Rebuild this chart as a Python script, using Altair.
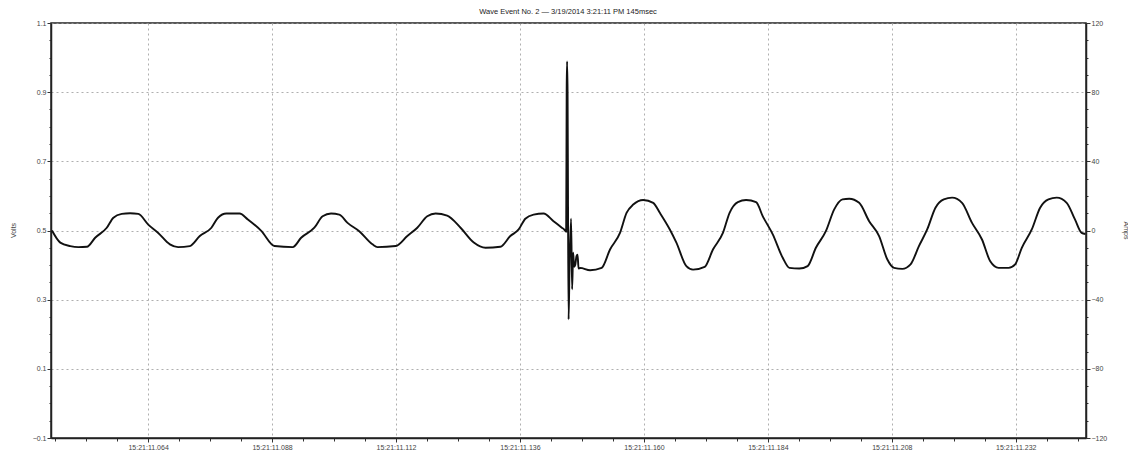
import altair as alt
import pandas as pd

title_text = "Wave Event No. 2 \u2014  3/19/2014 3:21:11 PM 145msec"

time_ms = [
    45.39, 47.0, 48.92, 50.5, 52.15, 53.75, 56.0, 57.28, 58.9, 60.5, 62.1,
    64.03, 65.96, 68.22, 69.82, 72.08, 74.01, 76.26, 77.54, 79.16, 81.72,
    83.32, 85.91, 88.48, 92.01, 93.63, 96.19, 97.79, 99.42, 101.02, 102.62,
    104.88, 107.44, 108.41, 111.96, 114.19, 116.12, 118.05, 119.67, 121.91,
    124.5, 127.06, 129.32, 132.21, 134.14, 135.75, 137.04, 138.64, 140.57,
    142.5, 144.1, 144.56,
    144.95, 145.05, 145.12, 145.22, 145.3, 145.42, 145.6, 145.9, 146.1,
    146.3, 146.5, 146.7, 146.95, 147.15, 147.35, 147.65,
    149.58, 151.82, 153.44, 155.37, 156.64, 157.94, 159.87, 161.80, 163.09,
    165.02, 166.29, 168.22, 169.51, 171.77, 173.37, 175.3, 176.59, 178.19,
    179.79, 181.72, 183.02, 184.95, 186.88, 188.17, 190.1, 191.70, 193.30,
    195.23, 196.85, 198.45, 199.75, 201.68, 203.61, 205.54, 207.14, 208.43,
    210.03, 211.63, 213.25, 214.85, 216.45, 218.07, 219.67, 221.6, 223.53,
    225.46, 227.06, 228.68, 230.61, 231.88, 233.17, 235.1, 236.72, 238.33,
    239.93, 241.86, 243.46, 244.75, 245.5,
]

volts = [
    0.500, 0.465, 0.455, 0.452, 0.453, 0.479, 0.508, 0.537, 0.548, 0.550, 0.548,
    0.517, 0.493, 0.460, 0.452, 0.455, 0.484, 0.508, 0.537, 0.549, 0.549,
    0.532, 0.499, 0.455, 0.452, 0.479, 0.508, 0.541, 0.549, 0.546, 0.522,
    0.498, 0.460, 0.452, 0.455, 0.484, 0.508, 0.541, 0.549, 0.543,
    0.508, 0.465, 0.450, 0.453, 0.484, 0.503, 0.534, 0.546, 0.549,
    0.527, 0.508, 0.503,
    0.497, 0.910, 0.989, 0.900, 0.600, 0.243, 0.400, 0.534, 0.330,
    0.436, 0.395, 0.400, 0.426, 0.430, 0.390, 0.392,
    0.385, 0.392, 0.445, 0.493, 0.551, 0.575, 0.588, 0.580, 0.551,
    0.503, 0.465, 0.397, 0.387, 0.395, 0.445, 0.493, 0.551, 0.582,
    0.588, 0.582, 0.541, 0.489, 0.421, 0.392, 0.390, 0.397, 0.450,
    0.498, 0.561, 0.590, 0.592, 0.580, 0.527, 0.484, 0.416, 0.392,
    0.389, 0.402, 0.455, 0.503, 0.566, 0.590, 0.595, 0.580, 0.522,
    0.474, 0.411, 0.392, 0.392, 0.402, 0.450, 0.503, 0.566, 0.590,
    0.595, 0.580, 0.532, 0.493, 0.490,
]

x_ticks = list(range(46, 246, 6))
volt_ticks = [round(-0.1 + 0.05 * i, 2) for i in range(25)]
amp_ticks = list(range(-120, 121, 10))
amp_domain = [-120, 120]

df = pd.DataFrame({"t": time_ms, "v": volts})
amps_df = pd.DataFrame({"a": amp_domain})
title_df = pd.DataFrame({"title": [title_text]})

FONT = "Liberation Sans"
LABEL_COLOR = "#444"

x_major = "(datum.value - 64) % 24 == 0"
v_major = "abs(round(datum.value * 20) % 4) == 2"
a_major = "datum.value % 40 == 0"

x_axis = alt.Axis(
    values=x_ticks,
    orient="bottom",
    title=None,
    labelExpr=f"{x_major} ? '15:21:11.' + format(datum.value, '03d') : ''",
    tickSize={"condition": {"test": x_major, "value": 4}, "value": 3},
    grid=True,
    gridOpacity={"condition": {"test": x_major, "value": 1}, "value": 0},
    gridDash=[2, 3],
    gridColor="#9a9a9a",
    gridWidth=0.8,
    labelFontSize=7,
    labelColor=LABEL_COLOR,
    labelFont=FONT,
    labelPadding=1,
    labelOverlap=False,
    domainColor="#222",
    domainWidth=1.5,
    tickColor="#333",
)

v_axis = alt.Axis(
    values=volt_ticks,
    orient="left",
    title="Volts",
    titleFontSize=7,
    titleFont=FONT,
    titleColor=LABEL_COLOR,
    titleFontWeight="normal",
    titleX=-38,
    titleY=207,
    titleAngle=270,
    titleAlign="center",
    titleBaseline="middle",
    labelExpr=f"{v_major} ? format(datum.value, '.1f') : ''",
    tickSize={"condition": {"test": v_major, "value": 4}, "value": 2},
    grid=True,
    gridOpacity={"condition": {"test": v_major, "value": 1}, "value": 0},
    gridDash=[2, 3],
    gridColor="#9a9a9a",
    gridWidth=0.8,
    labelFontSize=7,
    labelColor=LABEL_COLOR,
    labelFont=FONT,
    labelPadding=1,
    labelOverlap=False,
    domainColor="#222",
    domainWidth=1.5,
    tickColor="#333",
)

a_axis = alt.Axis(
    values=amp_ticks,
    orient="right",
    title="Amps",
    titleFontSize=7,
    titleFont=FONT,
    titleColor=LABEL_COLOR,
    titleFontWeight="normal",
    titleX=39,
    titleY=207,
    titleAngle=90,
    titleAlign="center",
    titleBaseline="middle",
    labelExpr=f"{a_major} ? format(datum.value, 'd') : ''",
    tickSize={"condition": {"test": a_major, "value": 4}, "value": 2},
    grid=False,
    labelFontSize=7,
    labelColor=LABEL_COLOR,
    labelFont=FONT,
    labelPadding=1,
    labelOverlap=False,
    domainColor="#222",
    domainWidth=1.5,
    tickColor="#333",
)

line = alt.Chart(df).mark_line(
    color="#111", strokeWidth=1.9, interpolate="monotone", clip=True
).encode(
    x=alt.X("t:Q", scale=alt.Scale(domain=[45.2, 245.6], nice=False, zero=False), axis=x_axis),
    y=alt.Y("v:Q", scale=alt.Scale(domain=[-0.1, 1.1], nice=False, zero=False), axis=v_axis),
)

amps = alt.Chart(amps_df).mark_point(opacity=0).encode(
    y=alt.Y("a:Q", scale=alt.Scale(domain=amp_domain, nice=False, zero=False), axis=a_axis),
)

title = alt.Chart(title_df).mark_text(
    font=FONT, fontSize=7.5, color="#222", align="center", baseline="middle"
).encode(
    text="title:N",
    x=alt.value(517),
    y=alt.value(-11),
)

chart = (
    alt.layer(line, amps, title)
    .resolve_scale(y="independent")
    .properties(
        width=1035,
        height=415,
        autosize=alt.AutoSizeParams(type="none"),
        padding={"left": 43, "top": 15, "right": 42, "bottom": 14},
        background="white",
    )
    .configure_view(stroke="#222", strokeWidth=1.5)
)

chart.save("out.html", embed_options={"renderer": "svg", "actions": False})
